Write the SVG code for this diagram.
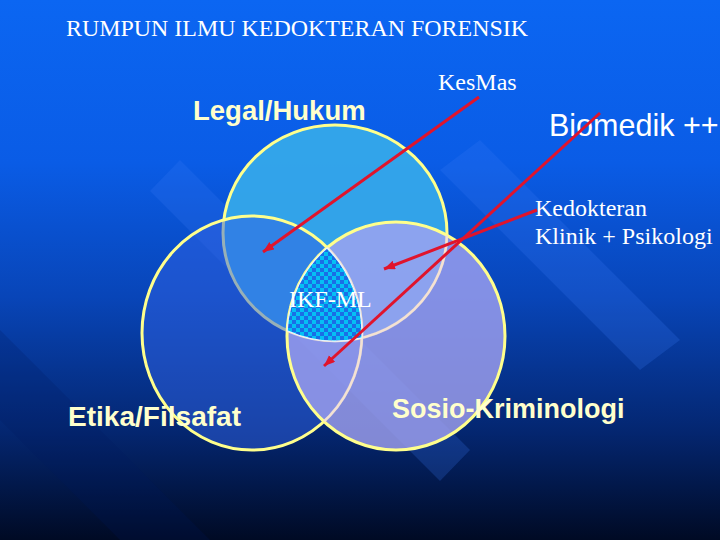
<svg xmlns="http://www.w3.org/2000/svg" width="720" height="540" viewBox="0 0 720 540">
  <defs>
    <linearGradient id="bg" x1="0" y1="0" x2="0" y2="1">
      <stop offset="0" stop-color="#0b66f2"/>
      <stop offset="0.3" stop-color="#0a5ce6"/>
      <stop offset="0.55" stop-color="#0845b8"/>
      <stop offset="0.8" stop-color="#042670"/>
      <stop offset="1" stop-color="#000a24"/>
    </linearGradient>
    <pattern id="checker" width="8" height="8" patternUnits="userSpaceOnUse">
      <rect width="8" height="8" fill="#1a6ee6"/>
      <rect width="4" height="4" fill="#05c0f4"/>
      <rect x="4" y="4" width="4" height="4" fill="#05c0f4"/>
    </pattern>
    <clipPath id="clipR"><ellipse cx="396" cy="336" rx="109" ry="114"/></clipPath>
    <marker id="ah" markerUnits="userSpaceOnUse" markerWidth="13" markerHeight="10" refX="11" refY="4.5" orient="auto">
      <path d="M0,0 L11,4.5 L0,9 z" fill="#e0142c"/>
    </marker>
    <style>
      .ring { stroke: #ffff8c; stroke-width: 3; }
      .hidden { fill: none; stroke: #f4e2d2; stroke-width: 2.5; }
      .serif { font-family: "Liberation Serif", "Times New Roman", serif; fill: #ffffff; }
      .bold { font-family: "Liberation Sans", Arial, sans-serif; font-weight: bold; fill: #ffffcc; }
      .sans { font-family: "Liberation Sans", Arial, sans-serif; fill: #ffffff; }
      .arrow { stroke: #e0142c; stroke-width: 3; fill: none; marker-end: url(#ah); }
      .band { fill: #3b7cf4; opacity: 0.22; }
      .dband { fill: #001a60; opacity: 0.2; }
    </style>
  </defs>

  <rect width="720" height="540" fill="url(#bg)"/>
  <g id="bands">
    <polygon class="band" points="470,450 440,481 150,191 180,160"/>
    <polygon class="dband" points="0,330 0,420 180,600 270,600"/>
    <polygon class="band" points="440,170 640,370 680,340 480,140"/>
  </g>

  <g id="circle-legal">
    <ellipse cx="335" cy="233" rx="112" ry="108" fill="#35a8ea" fill-opacity="0.95" class="ring"/>
  </g>
  <g id="circle-etika">
    <ellipse cx="252" cy="333" rx="110" ry="117" fill="#2f62e2" fill-opacity="0.5" class="ring"/>
  </g>
  <g id="circle-sosio">
    <ellipse cx="396" cy="336" rx="109" ry="114" fill="#a2a2f0" fill-opacity="0.8" class="ring"/>
    <g clip-path="url(#clipR)">
      <ellipse class="hidden" cx="335" cy="233" rx="112" ry="108"/>
      <ellipse class="hidden" cx="252" cy="333" rx="110" ry="117"/>
    </g>
  </g>
  <g id="ikf-ml">
    <path d="M327,248 A109,114 0 0 0 287.2,330.8 A112,108 0 0 0 361.9,337.8 A110,117 0 0 0 327,248 Z" fill="url(#checker)" stroke="#e8f4ff" stroke-width="1.2"/>
    <text class="serif" x="289" y="307" font-size="24">IKF-ML</text>
  </g>

  <g id="labels">
    <text class="serif" x="66" y="36" font-size="24" textLength="462" lengthAdjust="spacingAndGlyphs">RUMPUN ILMU KEDOKTERAN FORENSIK</text>
    <text class="serif" x="438" y="90" font-size="24">KesMas</text>
    <text class="bold" x="193" y="120" font-size="27.5">Legal/Hukum</text>
    <text class="sans" x="549" y="136" font-size="30.5">Biomedik ++</text>
    <text class="serif" x="535" y="216" font-size="24">Kedokteran</text>
    <text class="serif" x="535" y="244" font-size="24">Klinik + Psikologi</text>
    <text class="bold" x="68" y="426" font-size="27" textLength="173" lengthAdjust="spacingAndGlyphs">Etika/Filsafat</text>
    <text class="bold" x="392" y="418" font-size="27">Sosio-Kriminologi</text>
  </g>

  <g id="connectors">
    <line class="arrow" x1="479" y1="97" x2="263" y2="252"/>
    <line class="arrow" x1="600" y1="113" x2="324" y2="366"/>
    <line class="arrow" x1="537" y1="210" x2="384" y2="269"/>
  </g>
</svg>
